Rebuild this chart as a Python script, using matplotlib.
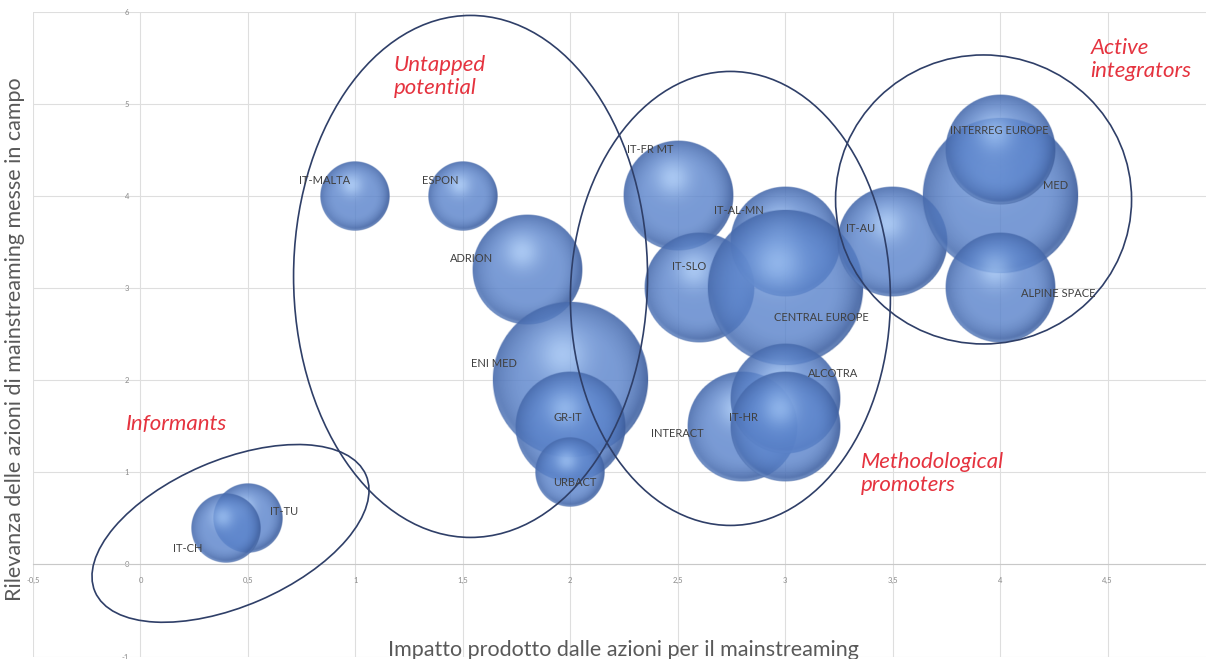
import numpy as np
import matplotlib.pyplot as plt
from matplotlib.patches import Ellipse
from matplotlib.transforms import ScaledTranslation
from matplotlib.ticker import FuncFormatter

# programmi: impatto (x), rilevanza (y), peso (dimensione bolla)
programmi = ["IT-TU", "IT-CH", "IT-MALTA", "ESPON", "ADRION", "ENI MED", "GR-IT", "URBACT",
             "IT-FR MT", "IT-SLO", "IT-AL-MN", "CENTRAL EUROPE", "IT-AU", "INTERACT",
             "ALCOTRA", "IT-HR", "MED", "INTERREG EUROPE", "ALPINE SPACE"]
impatto = [0.5, 0.4, 1.0, 1.5, 1.8, 2.0, 2.0, 2.0,
           2.5, 2.6, 3.0, 3.0, 3.5, 2.8,
           3.0, 3.0, 4.0, 4.0, 4.0]
rilevanza = [0.5, 0.4, 4.0, 4.0, 3.2, 2.0, 1.5, 1.0,
             4.0, 3.0, 3.5, 3.0, 3.5, 1.5,
             1.8, 1.5, 4.0, 4.5, 3.0]
peso = [2, 2, 2, 2, 5, 10, 5, 2,
        5, 5, 5, 10, 5, 5,
        5, 5, 10, 5, 5]

# spostamento etichette (pixel, destra / alto)
label_off = {"IT-CH": (-39, -21), "IT-TU": (36, 7), "IT-MALTA": (-31, 16), "ESPON": (-23, 16),
             "ADRION": (-56, 11), "ENI MED": (-76, 17), "GR-IT": (-2, 9), "URBACT": (5, -10),
             "IT-FR MT": (-27, 47), "IT-SLO": (-10, 22), "IT-AL-MN": (-46, 32),
             "CENTRAL EUROPE": (36, -29), "INTERACT": (-65, -7), "IT-HR": (-42, 9),
             "ALCOTRA": (48, 25), "IT-AU": (-32, 14), "MED": (55, 11),
             "INTERREG EUROPE": (-1, 20), "ALPINE SPACE": (58, -5)}

gruppi = ["Informants", "Untapped\npotential", "Methodological\npromoters", "Active\nintegrators"]
gruppi_xy = [(-0.07, 1.52), (1.177, 5.3), (3.35, 0.99), (4.42, 5.48)]
# ellissi: centro (dati), larghezza/altezza (pixel), rotazione
ellissi = [((0.419, 0.337), 295, 146, 23.3),
           ((1.536, 3.128), 354, 522, 0),
           ((2.745, 2.889), 320, 454, 0),
           ((3.923, 3.964), 296, 289, 0)]

xmin, xmax = -0.5, 4.958
ymin, ymax = -1, 6


def sphere_texture(n=180):
    # DESCRIPTION: builds an RGBA image of a shaded, slightly transparent sphere
    u = np.linspace(-1, 1, n)
    uu, vv = np.meshgrid(u, u)
    r = np.sqrt(uu**2 + vv**2)
    base = np.array([0.36, 0.52, 0.80])
    light = np.array([0.66, 0.80, 0.98])
    dark = np.array([0.22, 0.34, 0.58])
    d = np.sqrt((uu + 0.1)**2 + (vv - 0.32)**2)
    hl = np.exp(-(d / 0.32)**2) * 0.75
    shade = np.clip((r - 0.55) / 0.45, 0, 1)**1.8
    shade = shade * (0.6 + 0.4 * np.clip(uu - vv, 0, 1.4) / 1.4)
    rgb = base * (1 - shade)[..., None] + dark * shade[..., None]
    rgb = rgb * (1 - hl)[..., None] + light * hl[..., None]
    # thin lighter rim at the bottom (glass look)
    rim = np.exp(-((r - 0.97) / 0.03)**2) * np.clip(-vv, 0, 1) * 0.45
    rgb = rgb * (1 - rim)[..., None] + np.array([0.55, 0.68, 0.88]) * rim[..., None]
    alpha = np.clip((1 - r) * n / 2, 0, 1) * (0.82 + 0.13 * shade)
    return np.dstack([np.clip(rgb, 0, 1), alpha])


plt.rcParams['font.family'] = ['Lato', 'DejaVu Sans']
fig = plt.figure(figsize=(12.06, 6.59), dpi=100)
ax = fig.add_axes([33 / 1206, 2.5 / 659, 1173 / 1206, 644.5 / 659])
ax.set_xlim(xmin, xmax)
ax.set_ylim(ymin, ymax)

ax.set_xticks(np.arange(-0.5, 4.6, 0.5))
ax.set_yticks(np.arange(-1, 7, 1))
fmt = FuncFormatter(lambda v, p: f"{v:g}".replace(".", ","))
ax.xaxis.set_major_formatter(fmt)
ax.yaxis.set_major_formatter(fmt)
ax.grid(True, color="#dedede", lw=0.8)
ax.set_axisbelow(True)
for s in ["top", "right", "left"]:
    ax.spines[s].set_color("none")
ax.spines["left"].set_position(("data", 0))
ax.spines["bottom"].set_position(("data", 0))
ax.spines["bottom"].set_color("#c8c8c8")
ax.tick_params(length=0, labelsize=5.5, labelcolor="#8a8a8a")
ax.tick_params(axis="x", pad=9)
ax.tick_params(axis="y", pad=8)

bbox = ax.get_window_extent()
px_x = bbox.width / (xmax - xmin)
px_y = bbox.height / (ymax - ymin)

tex = sphere_texture()
for i in range(len(programmi)):
    r_px = 24.7 * np.sqrt(peso[i])
    dx, dy = r_px / px_x, r_px / px_y
    ax.imshow(tex, extent=[impatto[i] - dx, impatto[i] + dx, rilevanza[i] - dy, rilevanza[i] + dy],
              origin="lower", aspect="auto", interpolation="bilinear", zorder=3 + i)

for i, nome in enumerate(programmi):
    ax.annotate(nome, (impatto[i], rilevanza[i]), xytext=label_off[nome], textcoords="offset pixels",
                ha="center", va="center", fontsize=8, color="#404040", zorder=50)

for (c, w, h, ang) in ellissi:
    trans = fig.dpi_scale_trans + ScaledTranslation(c[0], c[1], ax.transData)
    ax.add_patch(Ellipse((0, 0), w / 100, h / 100, angle=ang, transform=trans,
                         fill=False, ec="#2f3f68", lw=1.2, zorder=40))

for testo, (gx, gy) in zip(gruppi, gruppi_xy):
    ax.text(gx, gy, testo, ha="left", va="center", fontsize=16, style="italic",
            color="#e5333f", linespacing=1.2, zorder=60)

ax.set_xlim(xmin, xmax)
ax.set_ylim(ymin, ymax)

fig.text(15 / 1206, 1 - 339 / 659, "Rilevanza delle azioni di mainstreaming messe in campo",
         rotation=90, ha="center", va="center", fontsize=15.5, color="#595959")
fig.text(623 / 1206, 3 / 659, "Impatto prodotto dalle azioni per il mainstreaming",
         ha="center", va="baseline", fontsize=15.5, color="#595959")

fig.savefig("out.png", dpi=100)
